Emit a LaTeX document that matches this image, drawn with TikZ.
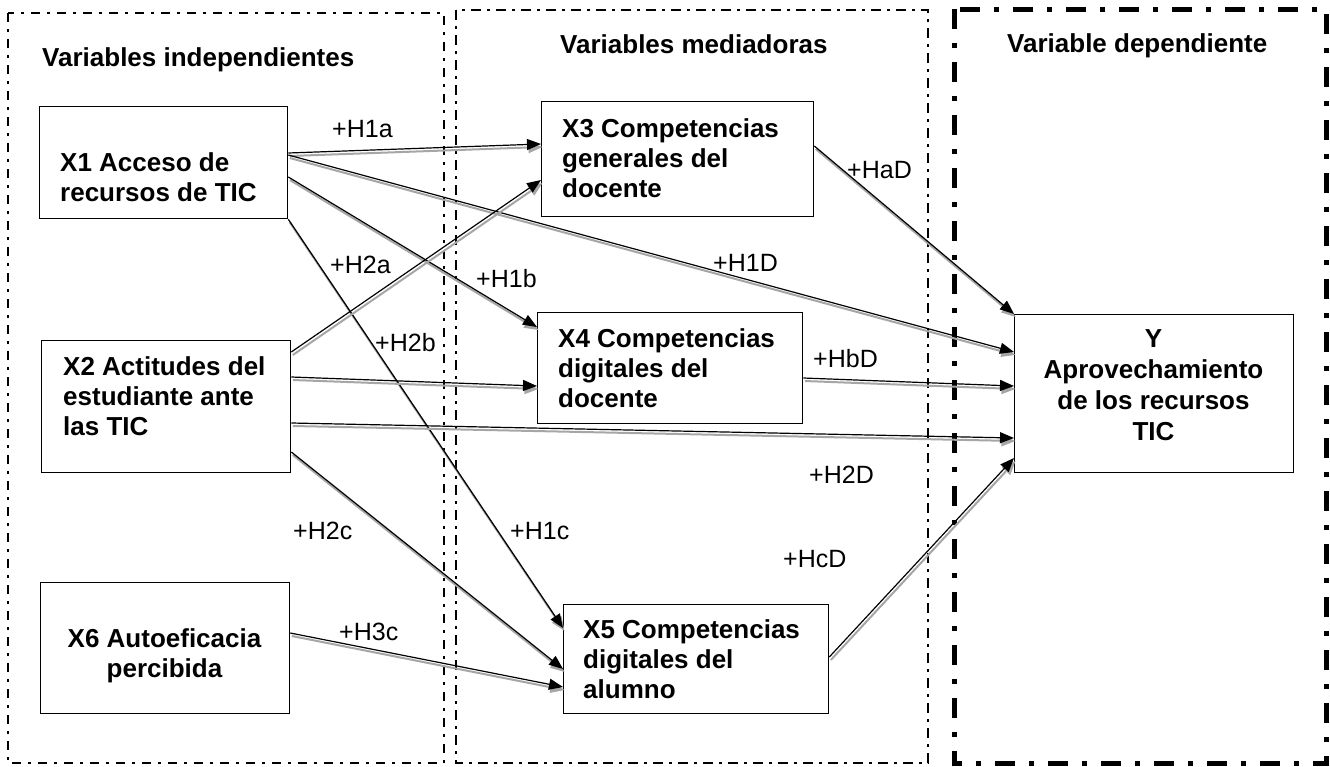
\documentclass[tikz,border=0pt]{standalone}
\usepackage{fontspec}
\setmainfont{Liberation Sans}
\usetikzlibrary{arrows.meta}
\newcommand\myarrow[2]{%
  \draw[shadowarr] #1 -- #2;
  \draw[mainarr] #1 -- #2;}
\begin{document}
\begin{tikzpicture}[x=1pt,y=-1pt,
  box/.style={draw=black, line width=1.3pt, inner sep=0pt, anchor=north west},
  btxt/.style={inner sep=0pt, align=left, anchor=north west, font=\fontsize{26}{30}\selectfont\bfseries},
  ctxt/.style={inner sep=0pt, align=center, anchor=north, font=\fontsize{26}{30}\selectfont\bfseries},
  ttl/.style={inner sep=0pt, anchor=base west, font=\fontsize{26}{30}\selectfont\bfseries},
  lbl/.style={inner sep=0pt, anchor=base west, font=\fontsize{25}{30}\selectfont},
  mainarr/.style={draw=black, line width=1.2pt, -{Triangle[length=14pt,width=11pt]}},
  shadowarr/.style={draw=black!35, line width=2pt, -{Triangle[length=14pt,width=11pt]}, transform canvas={shift={(1.5,3)}}},
  panelA/.style={draw=black, line width=1.3pt, dash pattern=on 9pt off 7pt on 3pt off 7pt},
  panelB/.style={draw=black, line width=2pt, dash pattern=on 10pt off 6pt on 3pt off 6pt},
  panelC/.style={draw=black, line width=5pt, dash pattern=on 20pt off 14pt on 5pt off 14pt}]
\useasboundingbox (0,0) rectangle (1330,766);
\fill[white] (0,0) rectangle (1330,766);
% panels
\draw[panelA] (8,13) rectangle (444,763);
\draw[panelB] (456,10) rectangle (928,763);
\draw[panelC] (954,9) rectangle (1326,763);
% titles
\node[ttl] (ti1) at (42,66) {Variables independientes};
\node[ttl] (ti2) at (560,53) {Variables mediadoras};
\node[ttl] (ti3) at (1007,52) {Variable dependiente};
% boxes
\node[box, minimum width=248pt, minimum height=112pt] (x1) at (39,106) {};
\node[box, minimum width=249pt, minimum height=132pt] (x2) at (41,340) {};
\node[box, minimum width=249pt, minimum height=131pt] (x6) at (40,582) {};
\node[box, minimum width=272pt, minimum height=115pt] (x3) at (541,101) {};
\node[box, minimum width=265pt, minimum height=111pt] (x4) at (537,312) {};
\node[box, minimum width=265pt, minimum height=109pt] (x5) at (563,604) {};
\node[box, minimum width=279pt, minimum height=158pt] (y) at (1014,314) {};
% box texts
\node[btxt] (t1) at (60,152) {X1 Acceso de\\recursos de TIC};
\node[btxt] (t2) at (63,356) {X2 Actitudes del\\estudiante ante\\las TIC};
\node[ctxt] (t6) at (164.5,628) {X6 Autoeficacia\\percibida};
\node[btxt] (t3) at (562,118) {X3 Competencias\\generales del\\docente};
\node[btxt] (t4) at (558,328) {X4 Competencias\\digitales del\\docente};
\node[btxt] (t5) at (583,619) {X5 Competencias\\digitales del\\alumno};
\node[ctxt, font=\fontsize{26}{31}\selectfont\bfseries] (ty) at (1153.5,329.4) {Y\\Aprovechamiento\\de los recursos\\TIC};
% arrows
\myarrow{(x1.east |- 0,153)}{(x3.west |- 0,144)}
\myarrow{(x1.east |- 0,155)}{(y.west |- 0,352)}
\myarrow{(x1.east |- 0,177)}{(x4.west |- 0,327)}
\myarrow{(x1.south east)}{(x5.west |- 0,628)}
\myarrow{(x2.east |- 0,352)}{(x3.west |- 0,180)}
\myarrow{(x2.east |- 0,377)}{(x4.west |- 0,386)}
\myarrow{(x2.east |- 0,423)}{(y.west |- 0,438)}
\myarrow{(x2.east |- 0,452)}{(x5.west |- 0,669)}
\myarrow{(x6.east |- 0,633)}{(x5.west |- 0,687)}
\myarrow{(x3.east |- 0,146)}{(y.north west)}
\myarrow{(x4.east |- 0,378)}{(y.west |- 0,386)}
\myarrow{(x5.east |- 0,657)}{(y.west |- 0,458)}
% labels
\node[lbl] (l1) at (332,137) {+H1a};
\node[lbl] (l2) at (330,273) {+H2a};
\node[lbl] (l3) at (476,287) {+H1b};
\node[lbl] (l4) at (375,351) {+H2b};
\node[lbl] (l5) at (713,271) {+H1D};
\node[lbl] (l6) at (847,178) {+HaD};
\node[lbl] (l7) at (813,367) {+HbD};
\node[lbl] (l8) at (809,483) {+H2D};
\node[lbl] (l9) at (783,567) {+HcD};
\node[lbl] (l10) at (293,539) {+H2c};
\node[lbl] (l11) at (510,539) {+H1c};
\node[lbl] (l12) at (339,640) {+H3c};
\end{tikzpicture}
\end{document}
